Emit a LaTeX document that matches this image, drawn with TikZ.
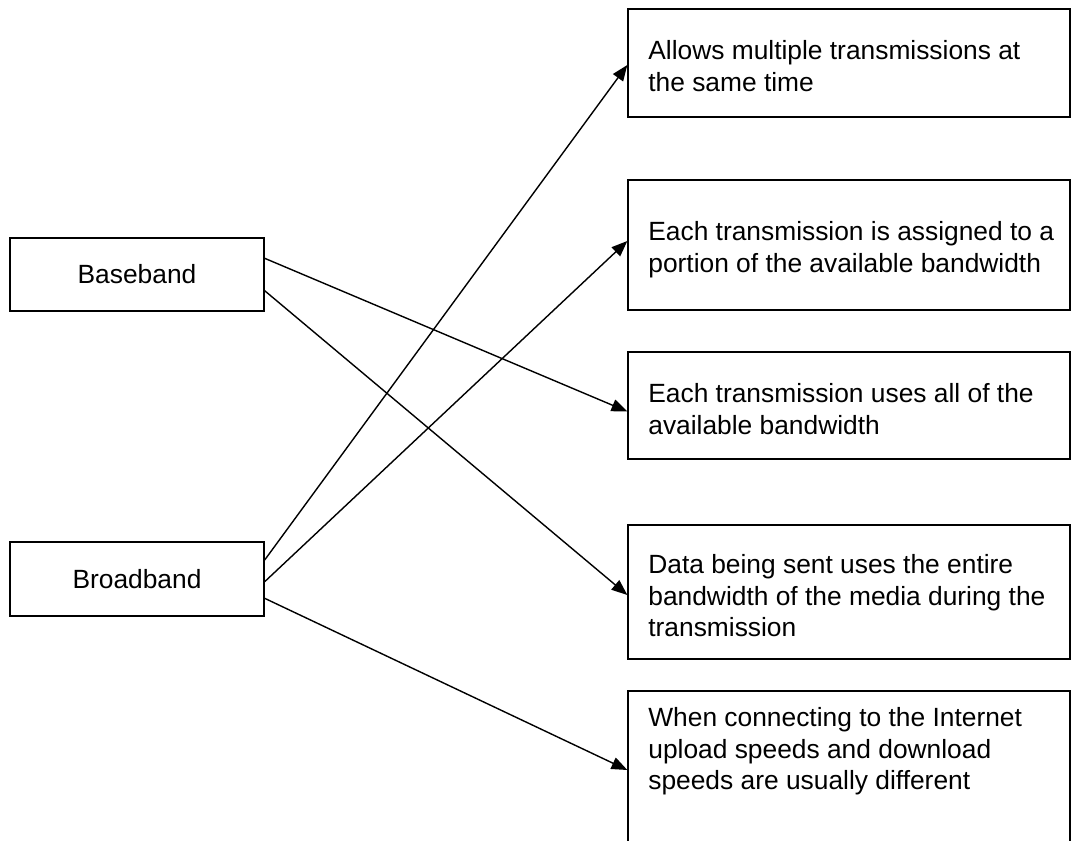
\documentclass[tikz,border=0pt]{standalone}
\usepackage{fontspec}
\setmainfont{Liberation Sans}
\usetikzlibrary{arrows.meta,calc}

\begin{document}
\begin{tikzpicture}[x=0.02cm,y=-0.02cm,
    box/.style={rectangle,draw,line width=0.8pt,inner sep=0pt},
    txt/.style={anchor=north west,inner sep=0pt,align=left,font=\fontsize{15}{18}\selectfont},
    link/.style={-{Triangle[length=9pt,width=7pt]},line width=0.8pt}]
    \useasboundingbox (0,0) rectangle (1071,841);
    \clip (0,0) rectangle (1071,841);

    % Transmission types
    \node[box,minimum width=5.08cm,minimum height=1.46cm,font=\fontsize{15}{18}\selectfont] (base) at (137,274.5) {Baseband};
    \node[box,minimum width=5.08cm,minimum height=1.48cm,font=\fontsize{15}{18}\selectfont] (broad) at (137,579) {Broadband};

    % Descriptions
    \node[box,minimum width=8.84cm,minimum height=2.16cm] (d1) at (849,63) {};
    \node[box,minimum width=8.84cm,minimum height=2.6cm] (d2) at (849,245) {};
    \node[box,minimum width=8.84cm,minimum height=2.14cm] (d3) at (849,405.5) {};
    \node[box,minimum width=8.84cm,minimum height=2.68cm] (d4) at (849,592) {};
    \node[box,minimum width=8.84cm,minimum height=4.18cm] (d5) at (849,795.5) {};

    \node[txt] (t1) at (648,40) {Allows multiple transmissions at\\the same time};
    \node[txt] (t2) at (648,221) {Each transmission is assigned to a\\portion of the available bandwidth};
    \node[txt] (t3) at (648,383) {Each transmission uses all of the\\available bandwidth};
    \node[txt] (t4) at (648,554) {Data being sent uses the entire\\bandwidth of the media during the\\transmission};
    \node[txt] (t5) at (648,707) {When connecting to the Internet\\upload speeds and download\\speeds are usually different};

    % Arrows
    \draw[link] ($(base.east)+(0,-16.2)$) -- ($(d3.west)+(0,6)$);
    \draw[link] ($(base.east)+(0,16.2)$) -- ($(d4.west)+(0,3)$);
    \draw[link] ($(broad.east)+(0,-19)$) -- ($(d1.west)+(0,2)$);
    \draw[link] ($(broad.east)+(0,2.7)$) -- ($(d2.west)+(0,-4)$);
    \draw[link] ($(broad.east)+(0,19.3)$) -- ($(d5.west)+(0,-25.5)$);
\end{tikzpicture}
\end{document}
